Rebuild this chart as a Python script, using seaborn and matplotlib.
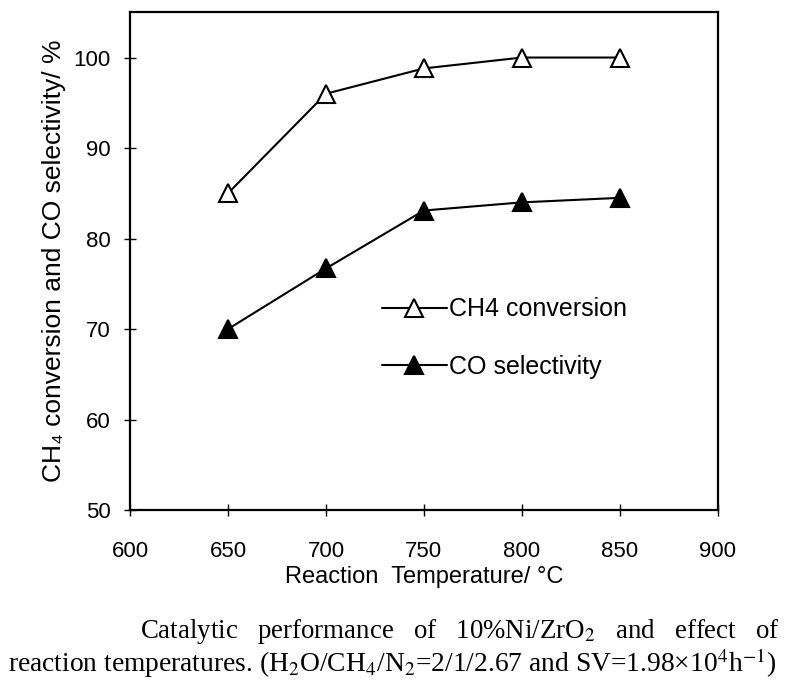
import matplotlib
matplotlib.use("Agg")
import matplotlib.pyplot as plt
import seaborn as sns
import pandas as pd

temperature = [650, 700, 750, 800, 850]
ch4_conversion = [85.0, 96.0, 98.8, 100.0, 100.0]
co_selectivity = [70.0, 76.7, 83.1, 84.0, 84.5]
x_ticks = [600, 650, 700, 750, 800, 850, 900]
y_ticks = [50, 60, 70, 80, 90, 100]

sns.set_style("white")
plt.rcParams['font.family'] = ['Liberation Sans', 'DejaVu Sans']
plt.rcParams['mathtext.fontset'] = 'stix'
plt.rcParams['text.color'] = 'black'
plt.rcParams['axes.labelcolor'] = 'black'

df = pd.DataFrame({
    "T": temperature * 2,
    "value": ch4_conversion + co_selectivity,
    "series": ["CH4 conversion"] * 5 + ["CO selectivity"] * 5,
})

fig = plt.figure(figsize=(7.95, 6.82), dpi=100)
ax = fig.add_axes([0.1635, 0.252, 0.7395, 0.730])

sub1 = df[df.series == "CH4 conversion"]
sub2 = df[df.series == "CO selectivity"]
sns.lineplot(data=sub1, x="T", y="value", ax=ax, color="black", lw=1.5,
             marker="^", markersize=13, markerfacecolor="white",
             markeredgecolor="black", markeredgewidth=1.5,
             label="CH4 conversion")
sns.lineplot(data=sub2, x="T", y="value", ax=ax, color="black", lw=1.5,
             marker="^", markersize=13, markerfacecolor="black",
             markeredgecolor="black", markeredgewidth=1.5,
             label="CO selectivity")

ax.set_xlim(600, 900)
ax.set_ylim(50, 105)
ax.set_xticks(x_ticks)
ax.set_yticks(y_ticks)
ax.tick_params(axis="both", bottom=True, left=True, direction="inout",
               length=8, width=1.0, labelsize=16, colors="black")
ax.tick_params(axis="x", pad=18)
ax.tick_params(axis="y", pad=10)
for s in ax.spines.values():
    s.set_linewidth(1.6)
    s.set_color("black")

ax.set_xlabel("Reaction  Temperature/ °C", fontsize=17, labelpad=3, color="black")
ax.set_ylabel("CH₄ conversion and CO selectivity/ %", fontsize=19, labelpad=5, color="black")

leg = ax.legend(loc="center left", bbox_to_anchor=(0.39, 0.345), frameon=False,
                fontsize=18, handlelength=2.6, handletextpad=0.1,
                labelspacing=1.35, labelcolor="black")

serif = ['Liberation Serif', 'DejaVu Serif']
line1_words = ["Catalytic", "performance", "of", "10%Ni/ZrO$_2$", "and", "effect", "of"]
fig.text(0.981, 1 - 632 / 682, "   ".join(line1_words),
         ha="right", va="center", fontsize=19.4, family=serif)
fig.text(0.010, 1 - 663 / 682,
         "reaction temperatures. (H$_2$O/CH$_4$/N$_2$=2/1/2.67 and SV=1.98×10$^4$h$^{-1}$)",
         ha="left", va="center", fontsize=19.8, family=serif)

fig.savefig("out.png", dpi=100, facecolor="white")
